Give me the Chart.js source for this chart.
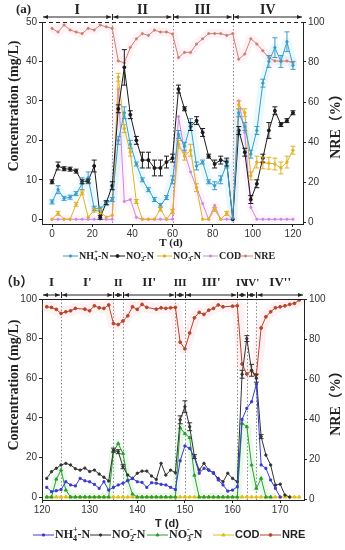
<!DOCTYPE html>
<html>
<head>
<meta charset="utf-8">
<script src="https://cdn.jsdelivr.net/npm/chart.js@4.4.0/dist/chart.umd.min.js"></script>
<style>
  html, body { margin: 0; padding: 0; background: #fff; }
  canvas { display: block; }
</style>
</head>
<body>
<canvas id="chartA" width="345" height="270"></canvas>
<canvas id="chartB" width="345" height="280"></canvas>
<script>
const SERIF = '"Liberation Serif", "Times New Roman", "Noto Sans CJK SC", serif';
const SANS = '"Liberation Sans", Arial, sans-serif';
const INK = '#222';

// ---- panel (a) data ----
const daysA = [0,3,6,9,12,15,18,21,24,27,30,33,36,39,42,45,48,51,54,57,60,63,66,69,72,75,78,81,84,87,90,93,96,99,102,105,108,111,114,117,120];
const nh4A = [4.4,7.5,5.3,5.6,6.5,9.0,10.5,2.8,2.6,4.1,5.0, 20.0,27.0,19.0,14.0,10.0,7.5,5.0,3.5,5.5,10.0, 21.5,18.5,24.0,13.5,14.5,9.5,8.5,10.0,14.0,0.3, 27.0,23.5,16.5,22.5,34.5,40.0,43.5,40.0,45.0,39.0];
const no2A = [9.5,13.5,12.8,12.7,12.2,9.5,9.7,13.5,0.5,4.2,8.5, 28.0,38.5,26.5,20.0,15.0,15.0,13.0,13.0,14.5,15.5, 33.0,28.0,23.5,25.0,22.0,16.0,14.0,15.0,14.5,0.0, 22.5,17.0,5.0,9.0,15.5,22.5,27.5,24.0,25.0,27.0];
const no3A = [0,1.5,0,0,3.8,6.7,0.5,2.3,2.0,0.5,1.0, 36.0,23.0,17.0,4.5,0,0,0,2.6,0,2.0, 19.0,16.0,17.5,8.0,0,0,2.5,0,1.5,0, 29.0,27.0,11.0,14.5,14.3,14.2,14.0,13.0,14.5,17.5];
const codA = [0,0,0,0,0,0,0,0,0,0,0, 33.0,4.5,5.0,0.5,0,0,0,0,0,0, 26.0,17.0,12.0,8.0,4.0,0,3.5,0,0,0, 30.0,22.0,3.0,0,0,0,0,0,0,0];
const nreA = [96.8,95.0,98.5,96.0,95.0,94.2,96.8,96.0,98.5,97.6,96.8, 80.5,79.6,87.3,91.6,94.2,93.3,95.9,95.0,95.0,94.0, 82.2,84.8,84.8,89.0,91.6,94.2,94.2,94.2,93.3,94.2, 81.4,84.0,91.6,89.0,85.6,82.2,80.5,80.5,80.5,79.6];
const nh4ErrA = [0.5,1,0.5,0.5,0.5,1.5,1.5,0.5,0.5,0.5,0.5, 1,1.5,1,0.5,0.5,0.5,0.5,0.5,0.5,1, 1,1,1.5,1,0.5,0.5,1,1,1,0, 1,1,1,1,1,1.5,2.5,1.5,2.5,1];
const no2ErrA = [0.5,1,0.5,0.5,0.5,0.5,0.5,1.5,0.5,0.5,1, 1,4.5,1,1,2,2,2,2,1.5,1, 1,0.5,1,1,1,0.5,1,1,1,0, 1,1,1,1,1,2,1,0.5,0.5,0.5];
const no3ErrA = [0,0.5,0,0,0.5,0.5,0,0.5,0.5,0,0, 1,1,1,0.5,0,0,0,0.5,0,0.5, 1,1,1.5,1,0,0,0.5,0,0.5,0, 1,1,1,1.5,1.5,1.5,1.5,1.5,1.5,1];
const stagesA = ['I', 'II', 'III', 'IV'];
const stageEdgesA = [-5, 30, 60, 90, 125];
const xTicksA = [0, 20, 40, 60, 80, 100, 120];
const yTicksA = [0, 10, 20, 30, 40, 50];

// ---- panel (b) data ----
const daysB = [121,122,123,124,125,126,127,128,129,130,131,132,133,134,135,136,137,138,139,140,141,142,143,144,145,146,147,148,149,150,151,152,153,154,155,156,157,158,159,160,161,162,163,164,165,166,167,168,169,170,171,172,173,174];
const nh4B = [4.9,2.7,3.2,3.8,7.7,6.1,5.6,9.4,8.2,7.7,6.4,4.4,7.7,3.5,4.9,6.1,7.0,8.2,9.4,7.7,7.4,4.9,7.2,7.0,6.4,6.1,4.9,3.8, 18.3,25.8,24.6,20.0,12.0,14.5,13.6,12.3,8.6,6.1,3.0,3.5,5.2, 39.2,44.8,48.1,57.0,16.2,14.5,8.6,4.4,0];
const no2B = [9.4,12.8,14.5,16.2,17.0,16.2,14.3,13.6,14.6,12.9,13.6,11.6,10.0,8.1, 23.7,22.9,15.3,11.1,9.4,12.0,13.1,13.1,10.6,8.9,17.0,11.1,13.6,12.3, 39.0,45.6,35.5,20.4,13.6,17.0,13.6,12.0,9.4,7.7,12.0,9.4,7.7, 62.0,80.0,64.0,60.0,30.5,21.2,16.2,6.0,6.5,1.0,0];
const no3B = [0,0,9.0,13.6,3.5,0,0,0,0,0,0,0,0,0, 23.0,27.0,22.0,8.6,1.5,0,0,0,0,0,0,0,0,0, 35.0,32.0,30.0,11.0,0,0,0,0,0,0,0,0,0, 37.2,35.5,16.2,4.4,9.4,0,0];
const codB = [0,0,0,0,0,0,0,0,0,0,0,0,0,0,0,0,0,0,0,0,0,0,0,0,0,0,0,0,0,0,0,0,0,0,0,0,0,0,0,0,0,0,0,0,0,0,0,0,0,0,0,0,0,0];
const nreDaysB = [121,122,123,124,125,126,127,129,130,131,132,133,134,135,136,137,138,139,140,141,142,144,145,146,147,148,149,150,151,152,153,154,155,156,157,158,160,161,162,163,164,165,166,167,168,169,170,171,172,173,174];
const nreB = [96.1,95.8,94.8,92.8,93.6,94.1,95.3, 94.9,94.1,96.6,95.6,95.3,97.0,87.7,87.2,89.0,91.6,96.1,94.8,97.3,95.8, 94.9,95.6,95.3,95.6,95.8,78.4,75.1,83.0,90.6,93.3,92.3,94.4,95.3,97.0,96.1, 96.4,96.6,67.5,62.5,64.1,62.1,85.5,91.1,93.6,95.6,96.1,96.6,97.3,97.8,99.5];
const no2ErrB = [0,0,0,0,0,0,0,0,0,0,0,0,0,0, 1,1,1,0,0,0,0,0,0,0,0,0,0,0, 2,3,2,1,0,0,0,0,0,0,0,0,0, 2,1.5,3,2,1,0,0,0,0,0,0];
const stagesB = ['I', "I'", 'II', "II'", 'III', "III'", 'IV', "IV'", "IV''"];
const stageEdgesB = [120, 124, 135, 137, 148, 150, 161, 163, 165, 175];
const xTicksB = [120, 130, 140, 150, 160, 170];
const yTicksB = [0, 20, 40, 60, 80, 100];
const nreTicks = [0, 20, 40, 60, 80, 100];

// legend texts, split into pieces for sub/superscripts
const legendNames = [
  [{t:'NH'},{t:'4',s:'sub',keep:true},{t:'+',s:'sup'},{t:'-N'}],
  [{t:'NO'},{t:'2',s:'sub',keep:true},{t:'-',s:'sup'},{t:'-N'}],
  [{t:'NO'},{t:'3',s:'sub',keep:true},{t:'-',s:'sup'},{t:'-N'}],
  [{t:'COD'}],
  [{t:'NRE'}]
];

function series(xs, ys, color, axis, style, r, errs) {
  return {
    data: ys.map((y, i) => ({ x: xs[i], y: y })),
    borderColor: color, backgroundColor: color, borderWidth: 1,
    pointStyle: style, pointRadius: r, pointBorderWidth: 1, pointRotation: 0,
    yAxisID: axis, errs: errs, tension: 0, order: 1
  };
}
function glow(xs, ys, color, axis, w) {
  return {
    data: ys.map((y, i) => ({ x: xs[i], y: y })),
    borderColor: color, borderWidth: w, pointRadius: 0, yAxisID: axis,
    borderJoinStyle: 'round', borderCapStyle: 'round', tension: 0, order: 10
  };
}

function drawRich(ctx, x, y, parts, size, family) {
  for (const p of parts) {
    const s = p.s ? Math.round(size * 0.7) : size;
    ctx.font = 'bold ' + s + 'px ' + family;
    const dy = p.s === 'sub' ? size * 0.3 : p.s === 'sup' ? -size * 0.4 : 0;
    ctx.fillText(p.t, x, y + dy);
    if (!p.keep) x += ctx.measureText(p.t).width;
  }
  return x;
}

function arrowSeg(ctx, x1, x2, y) {
  ctx.beginPath(); ctx.moveTo(x1, y); ctx.lineTo(x2, y); ctx.stroke();
  [[x1, 1], [x2, -1]].forEach(([xx, d]) => {
    ctx.beginPath(); ctx.moveTo(xx, y); ctx.lineTo(xx + d * 5, y - 2); ctx.lineTo(xx + d * 5, y + 2);
    ctx.closePath(); ctx.fill();
  });
}

function panelPlugin(cfg) {
  return {
    id: 'panel',
    beforeDatasetsDraw(chart) {
      const { ctx, chartArea: a, scales: { x } } = chart;
      ctx.save();
      ctx.strokeStyle = '#8a8a8a'; ctx.lineWidth = 1; ctx.setLineDash([1.5, 2]);
      cfg.edges.slice(1, -1).forEach(v => {
        const px = Math.round(x.getPixelForValue(v)) + 0.5;
        ctx.beginPath(); ctx.moveTo(px, a.top); ctx.lineTo(px, a.bottom); ctx.stroke();
      });
      ctx.restore();
    },
    afterDatasetsDraw(chart) {
      const ctx = chart.ctx;
      ctx.save(); ctx.lineWidth = 1;
      chart.data.datasets.forEach((ds, i) => {
        if (!ds.errs) return;
        const meta = chart.getDatasetMeta(i);
        const ys = chart.scales[ds.yAxisID];
        ctx.strokeStyle = ds.borderColor;
        meta.data.forEach((pt, j) => {
          const e = ds.errs[j];
          if (!e) return;
          const v = ds.data[j].y;
          const y1 = ys.getPixelForValue(v + e), y2 = ys.getPixelForValue(v - e);
          ctx.beginPath();
          ctx.moveTo(pt.x, y1); ctx.lineTo(pt.x, y2);
          ctx.moveTo(pt.x - 2.5, y1); ctx.lineTo(pt.x + 2.5, y1);
          ctx.moveTo(pt.x - 2.5, y2); ctx.lineTo(pt.x + 2.5, y2);
          ctx.stroke();
        });
      });
      ctx.restore();
    },
    afterDraw(chart) {
      const { ctx, chartArea: a, scales: { x } } = chart;
      ctx.save();
      // top border
      ctx.strokeStyle = INK; ctx.lineWidth = 1;
      if (cfg.dashedTop) ctx.setLineDash([4, 3]);
      ctx.beginPath(); ctx.moveTo(a.left, a.top + 0.5); ctx.lineTo(a.right, a.top + 0.5); ctx.stroke();
      ctx.setLineDash([]);
      // stage arrows
      ctx.fillStyle = INK; ctx.strokeStyle = INK;
      ctx.textAlign = 'center'; ctx.textBaseline = 'middle';
      for (let i = 0; i < cfg.stages.length; i++) {
        const x1 = Math.max(a.left, x.getPixelForValue(cfg.edges[i]));
        const x2 = Math.min(a.right, x.getPixelForValue(cfg.edges[i + 1]));
        arrowSeg(ctx, x1 + 1, x2 - 1, cfg.arrowY);
        if (i > 0) ctx.fillRect(Math.round(x1), cfg.arrowY - 3, 1, 6);
        const narrow = (x2 - x1) < 14;
        ctx.font = 'bold ' + (narrow ? cfg.stageSize - 2 : cfg.stageSize) + 'px ' + SERIF;
        ctx.fillText(cfg.stages[i], (x1 + x2) / 2, cfg.stageY);
      }
      // panel tag
      ctx.textAlign = 'left';
      ctx.font = 'bold 13px ' + SERIF;
      ctx.fillText(cfg.tag, cfg.tagX, cfg.stageY);
      // axis titles
      ctx.textAlign = 'center';
      ctx.font = 'bold 11px ' + cfg.xTitleFont;
      ctx.fillText('T (d)', cfg.xTitleX, cfg.xTitleY);
      ctx.save();
      ctx.translate(14, cfg.yTitleY); ctx.rotate(-Math.PI / 2);
      ctx.font = 'bold 14px ' + SERIF;
      ctx.fillText('Concentration (mg/L)', 0, 0);
      ctx.restore();
      ctx.save();
      ctx.translate(336, cfg.y2TitleY); ctx.rotate(-Math.PI / 2);
      ctx.font = 'bold 14px ' + SERIF;
      ctx.fillText('NRE（%）', 0, 0);
      ctx.restore();
      // legend
      ctx.textAlign = 'left'; ctx.textBaseline = 'middle';
      const mains = chart.data.datasets.filter(d => d.order === 1);
      mains.forEach((ds, i) => {
        const lx = cfg.legendX[i], ly = cfg.legendY, len = cfg.legendLen;
        ctx.strokeStyle = ds.borderColor; ctx.fillStyle = ds.borderColor; ctx.lineWidth = 1;
        ctx.beginPath(); ctx.moveTo(lx, ly); ctx.lineTo(lx + len, ly); ctx.stroke();
        Chart.helpers.drawPoint(ctx, { pointStyle: ds.pointStyle, radius: ds.pointRadius, rotation: ds.pointRotation, borderWidth: 1 }, lx + len / 2, ly);
        ctx.fillStyle = INK;
        const fam = i >= 3 ? cfg.legendFont2 : SERIF;
        const sz = i >= 3 ? cfg.legendSize2 : cfg.legendSize;
        drawRich(ctx, lx + len + 1, ly, legendNames[i], sz, fam);
      });
      ctx.restore();
    }
  };
}

function scalesFor(p) {
  const tickFont = { family: SANS, size: 10 };
  const common = {
    type: 'linear',
    grid: { drawOnChartArea: false, drawTicks: true, tickLength: 3, color: INK },
    border: { color: INK, width: 1 },
    ticks: { font: tickFont, color: '#333', padding: 2, autoSkip: false, maxRotation: 0 }
  };
  return {
    x: Object.assign({}, common, {
      min: p.xMin, max: p.xMax, position: 'bottom',
      ticks: Object.assign({}, common.ticks, { padding: 1 }),
      afterBuildTicks: s => { s.ticks = p.xTicks.map(v => ({ value: v })); },
      afterFit: s => { s.height = p.bottomH; }
    }),
    y: Object.assign({}, common, {
      min: p.yMin, max: p.yMax, position: 'left',
      afterBuildTicks: s => { s.ticks = p.yTicks.map(v => ({ value: v })); },
      afterFit: s => { s.width = 42; }
    }),
    y2: Object.assign({}, common, {
      min: p.y2Min, max: 100, position: 'right',
      afterBuildTicks: s => { s.ticks = nreTicks.map(v => ({ value: v })); },
      afterFit: s => { s.width = p.rightW; }
    })
  };
}

new Chart(document.getElementById('chartA'), {
  type: 'line',
  data: { datasets: [
    series(daysA, nh4A, '#3f9cc6', 'y', 'circle', 1.2, nh4ErrA),
    series(daysA, no2A, '#1a1a1a', 'y', 'circle', 1.5, no2ErrA),
    series(daysA, no3A, '#e2b020', 'y', 'circle', 1.2, no3ErrA),
    series(daysA, codA, '#c888e4', 'y', 'circle', 1.1, null),
    series(daysA, nreA, '#c98272', 'y2', 'circle', 1.1, null),
    glow(daysA, nh4A, 'rgba(120,220,240,0.16)', 'y', 9),
    glow(daysA, codA, 'rgba(250,170,220,0.13)', 'y', 8),
    glow(daysA, nreA, 'rgba(255,170,195,0.15)', 'y2', 9)
  ]},
  options: {
    responsive: false, animation: false, devicePixelRatio: 1,
    layout: { padding: { top: 22, left: 0, right: 0, bottom: 0 } },
    plugins: { legend: { display: false }, tooltip: { enabled: false } },
    scales: scalesFor({ xMin: -5, xMax: 125, xTicks: xTicksA, yMin: -1.2, yMax: 50, yTicks: yTicksA, y2Min: -1, bottomH: 46, rightW: 42 })
  },
  plugins: [panelPlugin({
    stages: stagesA, edges: stageEdgesA, dashedTop: true, arrowY: 17, stageY: 10, stageSize: 14,
    tag: '(a)', tagX: 16, xTitleX: 171, xTitleY: 243, xTitleFont: SERIF, yTitleY: 106, y2TitleY: 123,
    legendX: [63, 110, 157, 203, 238], legendY: 256, legendLen: 15, legendSize: 10, legendSize2: 10, legendFont2: SERIF
  })]
});

new Chart(document.getElementById('chartB'), {
  type: 'line',
  data: { datasets: [
    series(daysB, nh4B, '#3a3ad4', 'y', 'rect', 1.4, null),
    series(daysB, no2B, '#333333', 'y', 'circle', 1.2, no2ErrB),
    series(daysB, no3B, '#2f9a2f', 'y', 'triangle', 1.8, null),
    series(daysB, codB, '#e0bf1c', 'y', 'triangle', 2, null),
    series(nreDaysB, nreB, '#b4452a', 'y2', 'circle', 1.4, null),
    glow(daysB, no3B, 'rgba(120,225,140,0.16)', 'y', 8),
    glow(nreDaysB, nreB, 'rgba(255,165,180,0.17)', 'y2', 11)
  ]},
  options: {
    responsive: false, animation: false, devicePixelRatio: 1,
    layout: { padding: { top: 29, left: 0, right: 0, bottom: 0 } },
    plugins: { legend: { display: false }, tooltip: { enabled: false } },
    scales: scalesFor({ xMin: 120, xMax: 175, xTicks: xTicksB, yMin: -1.5, yMax: 100, yTicks: yTicksB, y2Min: -0.5, bottomH: 50, rightW: 41 })
  },
  plugins: [panelPlugin({
    stages: stagesB, edges: stageEdgesB, dashedTop: false, arrowY: 25, stageY: 13, stageSize: 13,
    tag: '（b）', tagX: 0, xTitleX: 167, xTitleY: 254, xTitleFont: SANS, yTitleY: 115, y2TitleY: 130,
    legendX: [33, 90, 147, 213, 260], legendY: 265, legendLen: 21, legendSize: 12, legendSize2: 11, legendFont2: SANS
  })]
});
</script>
</body>
</html>
